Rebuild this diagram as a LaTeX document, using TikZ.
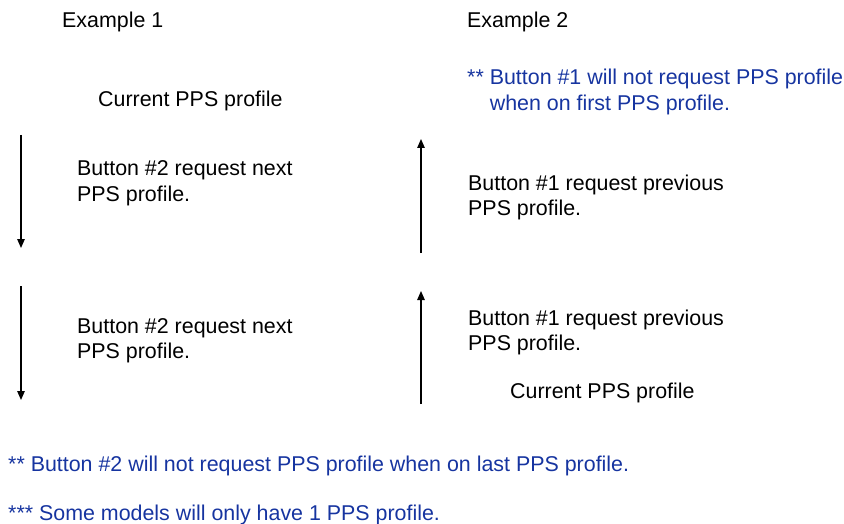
\documentclass[tikz,border=0pt]{standalone}
\usepackage{fontspec}
\setmainfont{Liberation Sans}
\usetikzlibrary{arrows.meta}
\definecolor{noteblue}{RGB}{22,52,160}
\newcommand{\twolines}[2]{\begin{tabular}[t]{@{}l@{}}#1\\#2\end{tabular}}
\begin{document}
\begin{tikzpicture}[x=1pt,y=-1pt,
  txt/.style={anchor=base west,inner sep=0pt,font=\fontsize{21.4}{25.7}\selectfont},
  note/.style={txt,text=noteblue},
  flow/.style={line width=1.3pt,-{Triangle[length=9pt,width=7.5pt]}}]
\useasboundingbox (0,0) rectangle (844,524);
% headings
\node[txt] (ex1) at (62,28) {Example 1};
\node[txt] (ex2) at (467,28) {Example 2};
% example 1
\node[txt] (cur1) at (98,107) {Current PPS profile};
\coordinate (a1s) at (21,135);
\coordinate (a1e) at (21,248);
\draw[flow] (a1s) -- (a1e);
\node[txt] (b2a) at (77,176) {\twolines{Button \#2 request next}{PPS profile.}};
\coordinate (a3s) at (21,286);
\coordinate (a3e) at (21,400);
\draw[flow] (a3s) -- (a3e);
\node[txt] (b2b) at (77,333) {\twolines{Button \#2 request next}{PPS profile.}};
% example 2
\node[note] (n1) at (467,85) {\twolines{** Button \#1 will not request PPS profile}{\phantom{** }when on first PPS profile.}};
\coordinate (a2s) at (421,253);
\coordinate (a2e) at (421,139);
\draw[flow] (a2s) -- (a2e);
\node[txt] (b1a) at (468,190) {\twolines{Button \#1 request previous}{PPS profile.}};
\coordinate (a4s) at (421,404);
\coordinate (a4e) at (421,291);
\draw[flow] (a4s) -- (a4e);
\node[txt] (b1b) at (468,325) {\twolines{Button \#1 request previous}{PPS profile.}};
\node[txt] (cur2) at (510,398) {Current PPS profile};
% bottom notes
\node[note] (n2) at (8,471) {** Button \#2 will not request PPS profile when on last PPS profile.};
\node[note] (n3) at (8,520) {*** Some models will only have 1 PPS profile.};
\end{tikzpicture}
\end{document}
